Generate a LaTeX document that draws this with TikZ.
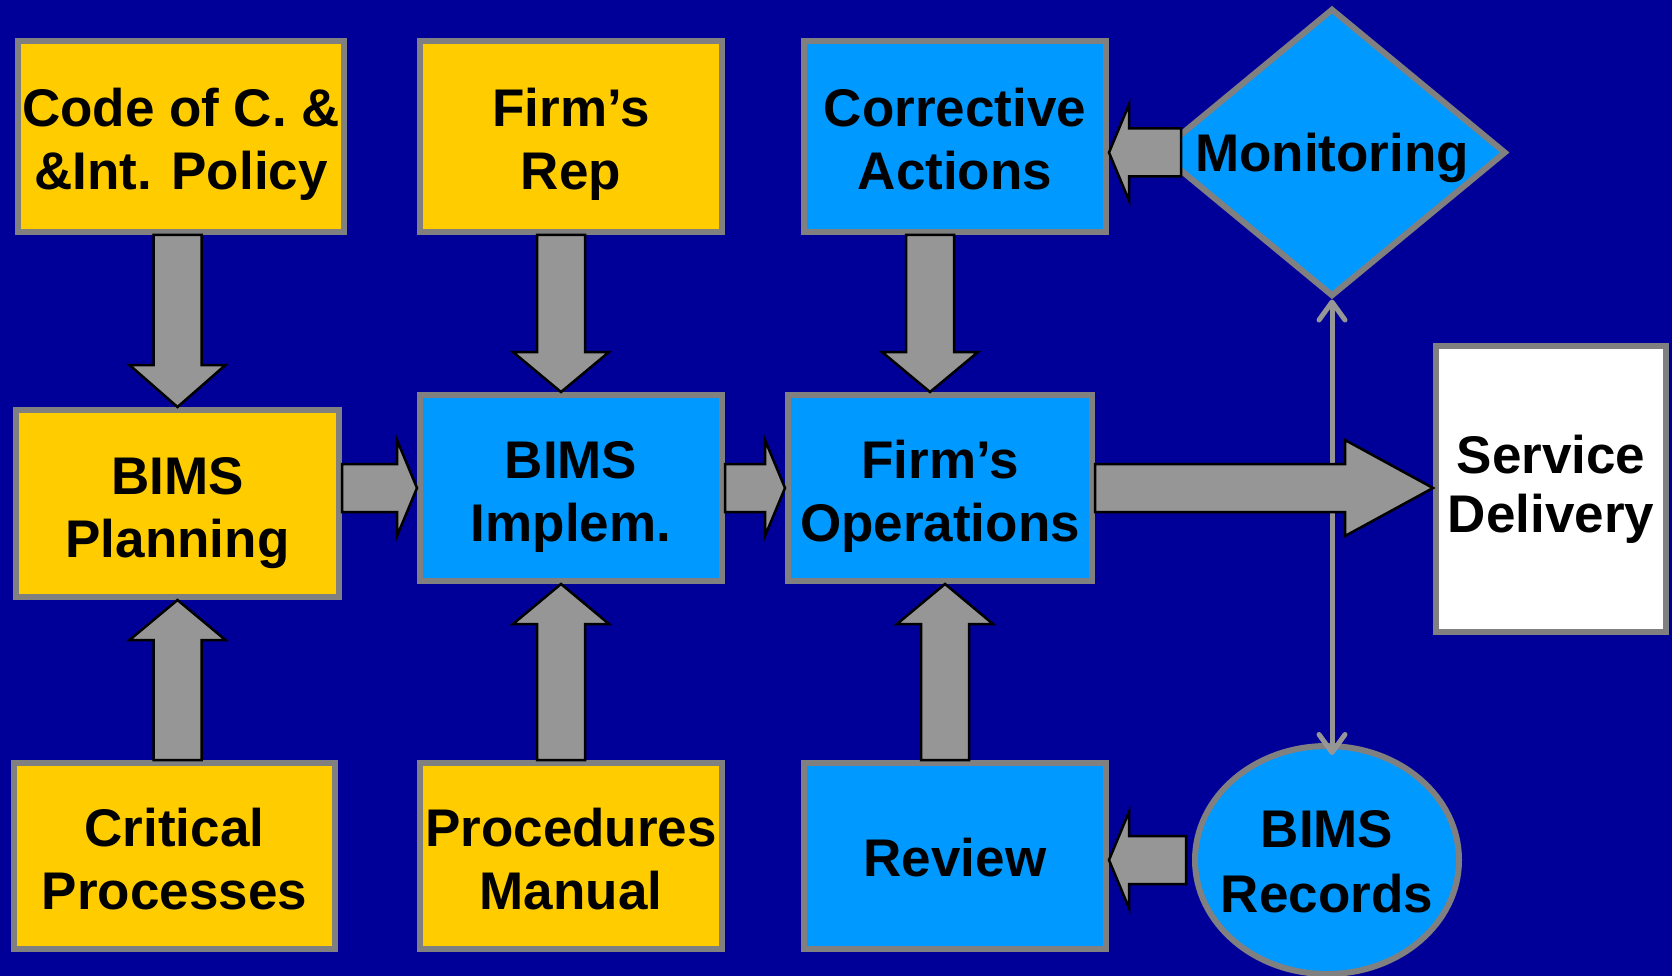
\documentclass[tikz,border=0pt]{standalone}
\usepackage{fontspec}
\setmainfont{Liberation Sans}
\usetikzlibrary{calc,shapes.geometric,arrows.meta}

\definecolor{bgblue}{RGB}{0,0,153}
\definecolor{planyellow}{RGB}{255,204,0}
\definecolor{boxblue}{RGB}{0,153,255}
\definecolor{edgegray}{RGB}{128,128,128}
\definecolor{arrowgray}{RGB}{150,150,150}

\tikzset{every picture/.style={line width=0.75pt}}
\tikzset{
	block/.style={draw=edgegray, line width=6pt, inner sep=0pt, font=\bfseries\fontsize{53}{63}\selectfont},
	textbox/.style={block, align=center, text height=118pt, text depth=11pt},
	yellowbox/.style={textbox, fill=planyellow},
	bluebox/.style={textbox, fill=boxblue},
	whitebox/.style={block, align=center, fill=white},
	fat arrow/.style={draw=black, fill=arrowgray, line width=2.5pt},
	link/.style={draw=arrowgray, line width=5pt, {Straight Barb[length=18pt,width=26pt,round]}-{Straight Barb[length=18pt,width=26pt,round]}}
}

% fat block arrow: [head length]{tail}{tip}
\newcommand{\fatarrow}[3][42]{%
	\coordinate (fa-c) at ($(#3)!#1pt!(#2)$);
	\filldraw[fat arrow] ($(#2)!24pt!90:(#3)$) -- ($(fa-c)!24pt!90:(#3)$) -- ($(fa-c)!48pt!90:(#3)$) -- (#3)
		-- ($(fa-c)!48pt!-90:(#3)$) -- ($(fa-c)!24pt!-90:(#3)$) -- ($(#2)!24pt!-90:(#3)$) -- cycle;
}

\begin{document}
\begin{tikzpicture}[x=1pt,y=1pt,yscale=-1,xscale=1]
	\useasboundingbox (0,0) rectangle (1672,976);
	\fill[bgblue] (0,0) rectangle (1672,976);

	%Shape: Rectangle, top row
	\node[yellowbox, minimum width=326pt, minimum height=191pt] (code) at (181,136.5) {Code of C. \&\\\&Int. Policy};
	\node[yellowbox, minimum width=302pt, minimum height=191pt] (rep) at (571,136.5) {Firm’s\\Rep};
	\node[bluebox, minimum width=302pt, minimum height=191pt] (corr) at (955,136.5) {Corrective\\Actions};
	%Shape: Diamond
	\node[block, shape=diamond, fill=boxblue, minimum width=348pt, minimum height=288pt] (mon) at (1332,152.5)
		{\rule{0pt}{49pt}\makebox[0pt]{Monitoring}};

	%Shape: Rectangle, middle row
	\node[yellowbox, minimum width=323pt, minimum height=187pt] (plan) at (177.5,503.5) {BIMS\\Planning};
	\node[bluebox, minimum width=302pt, minimum height=186pt] (impl) at (571,488) {BIMS\\Implem.};
	\node[bluebox, minimum width=304pt, minimum height=186pt] (ops) at (940,488) {Firm’s\\Operations};
	\node[whitebox, minimum width=230pt, minimum height=286pt] (serv) at (1551,489) {Service\\[-4pt]Delivery};

	%Shape: Rectangle, bottom row
	\node[yellowbox, minimum width=321pt, minimum height=186pt] (crit) at (174.5,856) {Critical\\Processes};
	\node[yellowbox, minimum width=302pt, minimum height=186pt] (proc) at (571,856) {Procedures\\Manual};
	\node[bluebox, minimum width=302pt, minimum height=186pt, text height=41pt, text depth=0pt] (rev) at (955,856) {Review};
	%Shape: Ellipse
	\node[block, shape=ellipse, fill=boxblue, minimum width=264pt, minimum height=228pt] (rec) at (1327,860)
		{\makebox[0pt]{\begin{tabular}{@{}c@{}}BIMS\rule{0pt}{58pt}\\[2pt]Records\end{tabular}}};

	%Straight Lines: monitoring <-> records
	\coordinate (lk-bot) at (mon.south |- rec.north);
	\draw[link] (mon.south) -- ($(lk-bot)+(0,12)$);

	%Block Arrows, down
	\coordinate (c-out) at (plan.north |- code.south);
	\fatarrow{c-out}{plan.north}
	\coordinate (r-out) at ($(rep.south)+(-10,0)$);
	\coordinate (r-in) at (r-out |- impl.north);
	\fatarrow[40]{r-out}{r-in}
	\coordinate (k-out) at ($(corr.south)+(-25,0)$);
	\coordinate (k-in) at (k-out |- ops.north);
	\fatarrow[40]{k-out}{k-in}

	%Block Arrows, up
	\coordinate (p-out) at (plan.south |- crit.north);
	\fatarrow[40]{p-out}{plan.south}
	\coordinate (m-out) at ($(proc.north)+(-10,0)$);
	\coordinate (m-in) at (m-out |- impl.south);
	\fatarrow[40]{m-out}{m-in}
	\coordinate (v-out) at ($(rev.north)+(-10,0)$);
	\coordinate (v-in) at (v-out |- ops.south);
	\fatarrow[40]{v-out}{v-in}

	%Block Arrows, sideways
	\coordinate (pi-out) at (plan.east |- impl.west);
	\fatarrow[20]{pi-out}{impl.west}
	\fatarrow[20]{impl.east}{ops.west}
	\coordinate (os-in) at (serv.west |- ops.east);
	\fatarrow[88]{ops.east}{os-in}
	\coordinate (mc-out) at ($(mon.west)+(26,0)$);
	\coordinate (mc-in) at (corr.east |- mon.west);
	\fatarrow[20]{mc-out}{mc-in}
	\coordinate (rr-out) at ($(rec.west)+(-6,0)$);
	\coordinate (rr-in) at (rev.east |- rec.west);
	\fatarrow[20]{rr-out}{rr-in}

\end{tikzpicture}
\end{document}
